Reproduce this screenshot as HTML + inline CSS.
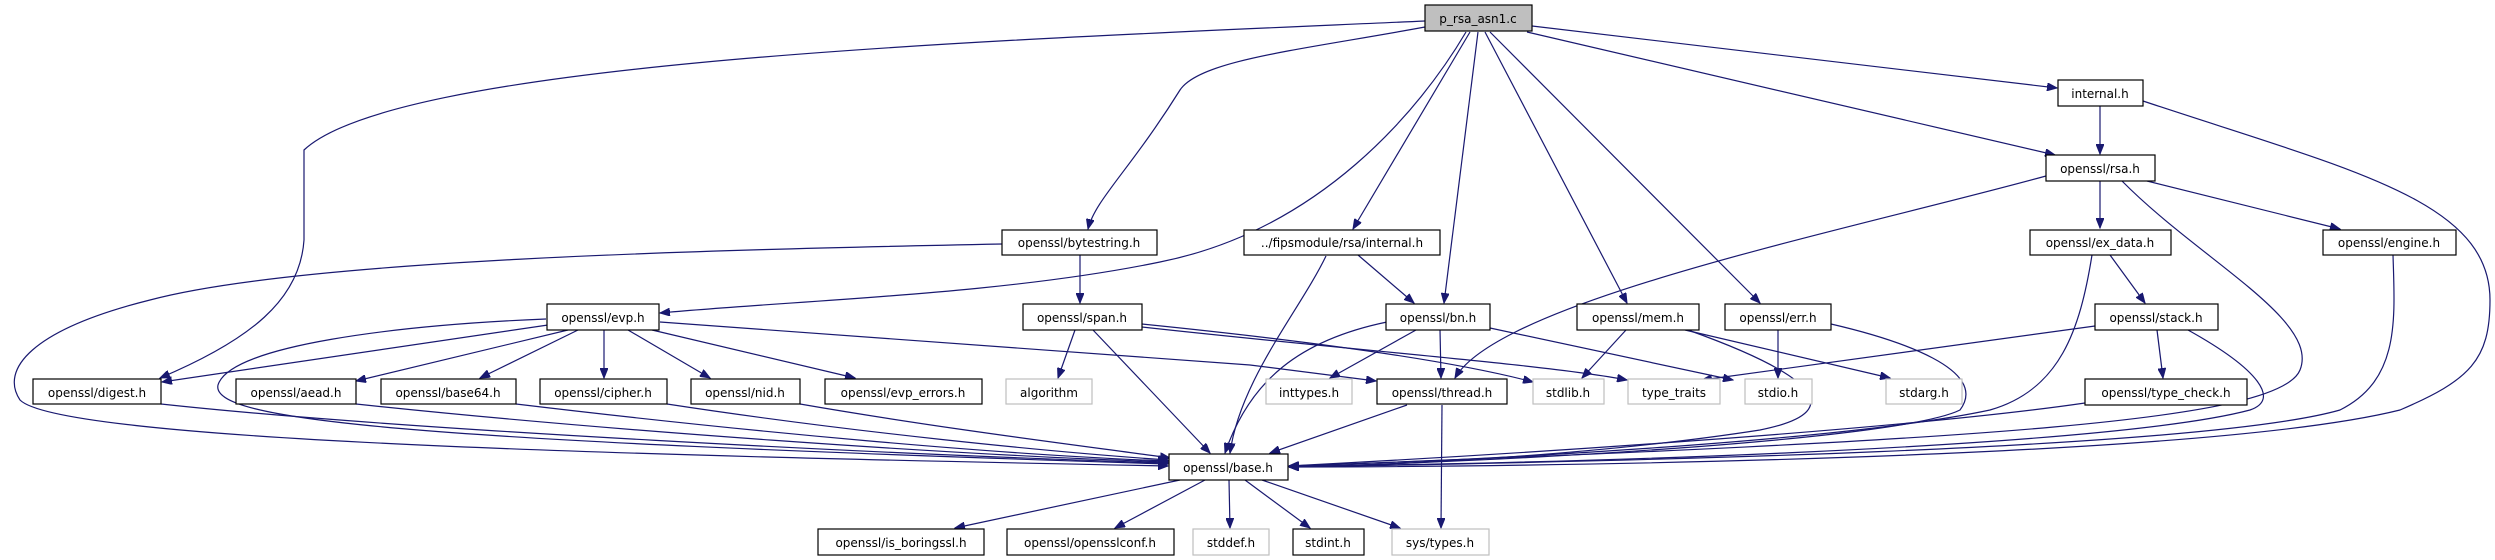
<!DOCTYPE html>
<html><head><meta charset="utf-8"><style>
html,body{margin:0;padding:0;background:#fff;}
svg{display:block;}
text{font-family:"DejaVu Sans","Liberation Sans",sans-serif;font-size:12px;text-anchor:middle;fill:#000;}
.b{fill:#fff;stroke:#000;stroke-width:1.2;}
.g{fill:#fff;stroke:#bfbfbf;stroke-width:1.2;}
.r{fill:#bfbfbf;stroke:#000;stroke-width:1.2;}
.e{fill:none;stroke:#191970;stroke-width:1.2;marker-end:url(#a);}
</style></head><body>
<svg width="2495" height="560" viewBox="0 0 2495 560" xmlns="http://www.w3.org/2000/svg">
<defs><marker id="a" markerWidth="11" markerHeight="8" refX="10" refY="4" orient="auto" markerUnits="userSpaceOnUse"><path d="M0,0 L10,4 L0,8 z" fill="#191970" stroke="#191970"/></marker></defs>

<!-- edges -->
<path class="e" d="M1532,26 L2057,88"/>
<path class="e" d="M1527,32 L2055,155"/>
<path class="e" d="M1490,32 L1760,303"/>
<path class="e" d="M1485,32 L1627,303"/>
<path class="e" d="M1478,32 L1444,303"/>
<path class="e" d="M1470,32 L1353,229"/>
<path class="e" d="M1466,32 C1420,110 1320,230 1160,262 C1000,295 800,300 660,313"/>
<path class="e" d="M1425,27 C1300,50 1200,60 1180,90 C1130,170 1095,200 1088,229"/>
<path class="e" d="M1425,21 C1000,40 400,60 304,150 L304,240 C300,300 250,340 160,378"/>
<path class="e" d="M2046,176 C1850,230 1500,300 1455,378"/>
<path class="e" d="M2100,106 L2100,154"/>
<path class="e" d="M2143,101 C2350,170 2490,200 2490,300 C2490,360 2470,380 2400,410 C2200,460 1500,467 1289,467"/>
<path class="e" d="M2100,181 L2100,228"/>
<path class="e" d="M2147,181 L2340,229"/>
<path class="e" d="M2122,181 C2200,260 2320,320 2300,370 C2280,420 2000,440 1289,466"/>
<path class="e" d="M2110,255 L2145,303"/>
<path class="e" d="M2092,255 C2080,330 2060,390 1990,410 C1850,440 1500,460 1289,466"/>
<path class="e" d="M2393,255 C2395,320 2400,380 2340,410 C2200,450 1600,462 1289,467"/>
<path class="e" d="M2157,330 L2163,378"/>
<path class="e" d="M2095,326 L1702,380"/>
<path class="e" d="M2188,330 C2260,370 2280,400 2250,410 C2100,450 1500,465 1289,466"/>
<path class="e" d="M2085,403 C1900,430 1500,455 1289,466"/>
<path class="e" d="M1080,255 L1080,303"/>
<path class="e" d="M1002,244 C700,250 300,260 150,300 C30,330 0,370 20,400 C60,440 600,455 1168,466"/>
<path class="e" d="M1358,255 L1414,303"/>
<path class="e" d="M1326,256 C1300,310 1240,380 1230,453"/>
<path class="e" d="M1075,330 L1058,378"/>
<path class="e" d="M1093,330 L1210,453"/>
<path class="e" d="M1142,324 C1300,340 1450,360 1533,382"/>
<path class="e" d="M1142,327 C1350,350 1550,365 1627,380"/>
<path class="e" d="M660,322 L1250,365 L1376,381"/>
<path class="e" d="M548,325 L162,382"/>
<path class="e" d="M568,330 L356,381"/>
<path class="e" d="M578,330 L480,378"/>
<path class="e" d="M604,330 L604,378"/>
<path class="e" d="M628,330 L710,378"/>
<path class="e" d="M652,330 L855,378"/>
<path class="e" d="M546,319 C400,325 230,345 218,385 C210,420 400,440 1168,464"/>
<path class="e" d="M161,404 C400,430 900,455 1168,463"/>
<path class="e" d="M356,404 C600,430 950,455 1168,462"/>
<path class="e" d="M516,404 C750,432 1000,455 1168,461"/>
<path class="e" d="M667,404 C850,432 1050,452 1168,460"/>
<path class="e" d="M800,404 C950,430 1100,448 1170,458"/>
<path class="e" d="M1416,330 L1330,378"/>
<path class="e" d="M1440,330 L1441,378"/>
<path class="e" d="M1490,328 L1733,380"/>
<path class="e" d="M1387,322 C1300,340 1250,380 1225,453"/>
<path class="e" d="M1626,330 L1582,378"/>
<path class="e" d="M1685,330 L1890,378"/>
<path class="e" d="M1688,330 C1800,370 1860,410 1760,430 C1600,455 1400,465 1289,467"/>
<path class="e" d="M1778,330 L1778,378"/>
<path class="e" d="M1831,324 C1900,340 1990,370 1960,410 C1900,440 1500,462 1289,467"/>
<path class="e" d="M1407,405 L1270,453"/>
<path class="e" d="M1442,405 L1441,528"/>
<path class="e" d="M1180,480 L955,528"/>
<path class="e" d="M1205,480 L1115,528"/>
<path class="e" d="M1229,480 L1230,528"/>
<path class="e" d="M1245,480 L1310,528"/>
<path class="e" d="M1262,480 L1400,528"/>

<!-- nodes -->
<rect class="r" x="1425" y="5" width="107" height="26"/><text x="1478" y="23">p_rsa_asn1.c</text>
<rect class="b" x="2058" y="80" width="85" height="26"/><text x="2100" y="98">internal.h</text>
<rect class="b" x="2046" y="155" width="109" height="26"/><text x="2100" y="173">openssl/rsa.h</text>
<rect class="b" x="1002" y="230" width="155" height="25"/><text x="1079" y="247">openssl/bytestring.h</text>
<rect class="b" x="1244" y="230" width="196" height="25"/><text x="1342" y="247">../fipsmodule/rsa/internal.h</text>
<rect class="b" x="2030" y="230" width="141" height="25"/><text x="2100" y="247">openssl/ex_data.h</text>
<rect class="b" x="2323" y="230" width="133" height="25"/><text x="2389" y="247">openssl/engine.h</text>
<rect class="b" x="547" y="304" width="112" height="26"/><text x="603" y="322">openssl/evp.h</text>
<rect class="b" x="1023" y="304" width="119" height="26"/><text x="1082" y="322">openssl/span.h</text>
<rect class="b" x="1386" y="304" width="104" height="26"/><text x="1438" y="322">openssl/bn.h</text>
<rect class="b" x="1577" y="304" width="122" height="26"/><text x="1638" y="322">openssl/mem.h</text>
<rect class="b" x="1725" y="304" width="106" height="26"/><text x="1778" y="322">openssl/err.h</text>
<rect class="b" x="2095" y="304" width="123" height="26"/><text x="2156" y="322">openssl/stack.h</text>
<rect class="b" x="33" y="379" width="128" height="25"/><text x="97" y="397">openssl/digest.h</text>
<rect class="b" x="236" y="379" width="120" height="25"/><text x="296" y="397">openssl/aead.h</text>
<rect class="b" x="381" y="379" width="135" height="25"/><text x="448" y="397">openssl/base64.h</text>
<rect class="b" x="540" y="379" width="127" height="25"/><text x="603" y="397">openssl/cipher.h</text>
<rect class="b" x="691" y="379" width="109" height="25"/><text x="745" y="397">openssl/nid.h</text>
<rect class="b" x="825" y="379" width="157" height="25"/><text x="903" y="397">openssl/evp_errors.h</text>
<rect class="g" x="1006" y="379" width="86" height="25"/><text x="1049" y="397">algorithm</text>
<rect class="g" x="1266" y="379" width="86" height="25"/><text x="1309" y="397">inttypes.h</text>
<rect class="b" x="1377" y="379" width="130" height="25"/><text x="1442" y="397">openssl/thread.h</text>
<rect class="g" x="1533" y="379" width="71" height="25"/><text x="1568" y="397">stdlib.h</text>
<rect class="g" x="1628" y="379" width="92" height="25"/><text x="1674" y="397">type_traits</text>
<rect class="g" x="1745" y="379" width="67" height="25"/><text x="1778" y="397">stdio.h</text>
<rect class="g" x="1886" y="379" width="76" height="25"/><text x="1924" y="397">stdarg.h</text>
<rect class="b" x="2085" y="379" width="162" height="26"/><text x="2166" y="397">openssl/type_check.h</text>
<rect class="b" x="1169" y="454" width="119" height="26"/><text x="1228" y="472">openssl/base.h</text>
<rect class="b" x="818" y="529" width="166" height="26"/><text x="901" y="547">openssl/is_boringssl.h</text>
<rect class="b" x="1007" y="529" width="167" height="26"/><text x="1090" y="547">openssl/opensslconf.h</text>
<rect class="g" x="1193" y="529" width="76" height="26"/><text x="1231" y="547">stddef.h</text>
<rect class="b" x="1293" y="529" width="71" height="26"/><text x="1328" y="547">stdint.h</text>
<rect class="g" x="1392" y="529" width="97" height="26"/><text x="1440" y="547">sys/types.h</text>
</svg>
</body></html>
